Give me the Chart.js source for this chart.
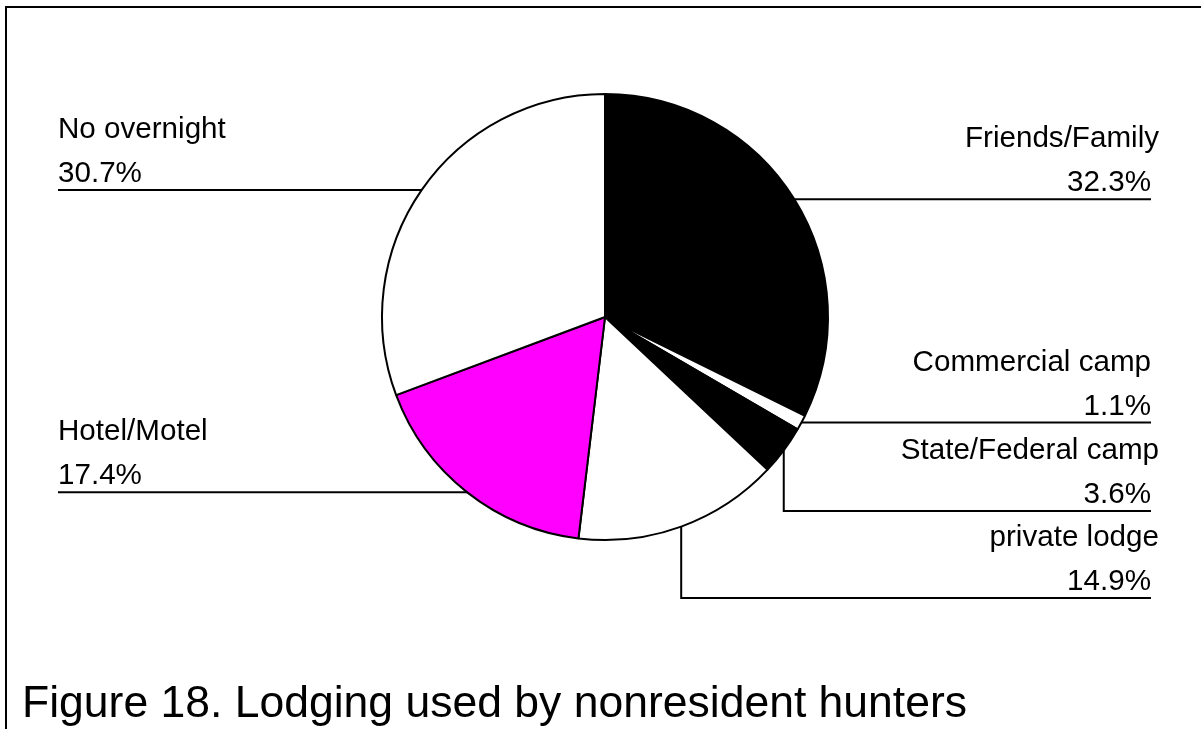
<!DOCTYPE html>
<html>
<head>
<meta charset="utf-8">
<script src="https://cdn.jsdelivr.net/npm/chart.js@4/dist/chart.umd.min.js"></script>
<style>
  html, body { margin: 0; padding: 0; background: #fff; }
  #wrap { width: 1201px; height: 729px; }
</style>
</head>
<body>
<div id="wrap"><canvas id="pieChart" width="1201" height="729"></canvas></div>
<script>
const labels = ["Friends/Family", "Commercial camp", "State/Federal camp", "private lodge", "Hotel/Motel", "No overnight"];
const percents = [32.3, 1.1, 3.6, 14.9, 17.4, 30.7];
const pctLabels = ["32.3%", "1.1%", "3.6%", "14.9%", "17.4%", "30.7%"];
const sliceColors = ["#000000", "#ffffff", "#000000", "#ffffff", "#ff00ff", "#ffffff"];
const titleText = "Figure 18. Lodging used by nonresident hunters";

// callout layout: which side, straight or elbow leader, text anchor
const callouts = [
  { side: "right", leader: "h", nameX: 1159 },
  { side: "right", leader: "h", nameX: 1151 },
  { side: "right", leader: "v", lineY: 511, nameX: 1159 },
  { side: "right", leader: "v", lineY: 598, nameX: 1159 },
  { side: "left", leader: "h" },
  { side: "left", leader: "h" },
];

const FONT = "'Liberation Sans', Arial, sans-serif";
const LEFT_X = 58;
const RIGHT_X = 1151;

const calloutPlugin = {
  id: "callouts",
  beforeDraw(chart) {
    const ctx = chart.ctx;
    ctx.save();
    ctx.fillStyle = "#fff";
    ctx.fillRect(0, 0, chart.width, chart.height);
    // frame (top and left only)
    ctx.strokeStyle = "#000";
    ctx.lineWidth = 2;
    ctx.beginPath();
    ctx.moveTo(chart.width, 7);
    ctx.lineTo(6, 7);
    ctx.lineTo(6, chart.height);
    ctx.stroke();
    ctx.restore();
  },
  afterDraw(chart) {
    const ctx = chart.ctx;
    const meta = chart.getDatasetMeta(0);
    ctx.save();
    ctx.strokeStyle = "#000";
    ctx.fillStyle = "#000";
    ctx.lineWidth = 2;
    ctx.font = "29.6px " + FONT;
    ctx.textBaseline = "alphabetic";

    meta.data.forEach((arc, i) => {
      const p = arc.getProps(["x", "y", "startAngle", "endAngle", "outerRadius"], true);
      const mid = (p.startAngle + p.endAngle) / 2;
      const px = p.x + p.outerRadius * Math.cos(mid);
      const py = p.y + p.outerRadius * Math.sin(mid);
      const c = callouts[i];
      let lineY = py;

      ctx.beginPath();
      if (c.leader === "v") {
        lineY = c.lineY;
        ctx.moveTo(px, py);
        ctx.lineTo(px, lineY);
        ctx.lineTo(RIGHT_X, lineY);
      } else if (c.side === "right") {
        ctx.moveTo(px, lineY);
        ctx.lineTo(RIGHT_X, lineY);
      } else {
        ctx.moveTo(px, lineY);
        ctx.lineTo(LEFT_X, lineY);
      }
      ctx.stroke();

      if (c.side === "right") {
        ctx.textAlign = "right";
        ctx.fillText(labels[i], c.nameX, lineY - 52);
        ctx.fillText(pctLabels[i], RIGHT_X, lineY - 8);
      } else {
        ctx.textAlign = "left";
        ctx.fillText(labels[i], LEFT_X, lineY - 52);
        ctx.fillText(pctLabels[i], LEFT_X, lineY - 8);
      }
    });

    // figure caption
    ctx.textAlign = "left";
    ctx.font = "44.5px " + FONT;
    ctx.fillText(titleText, 22, 717);
    ctx.restore();
  },
};

const ctx = document.getElementById("pieChart").getContext("2d");
new Chart(ctx, {
  type: "pie",
  data: {
    labels: labels,
    datasets: [{
      data: percents,
      backgroundColor: sliceColors,
      borderColor: "#000",
      borderWidth: 2,
      radius: 223,
    }],
  },
  options: {
    responsive: false,
    animation: false,
    layout: { padding: { left: 300, right: 291, top: 80, bottom: 175 } },
    plugins: {
      legend: { display: false },
      tooltip: { enabled: false },
      title: { display: false },
    },
  },
  plugins: [calloutPlugin],
});
</script>
</body>
</html>
